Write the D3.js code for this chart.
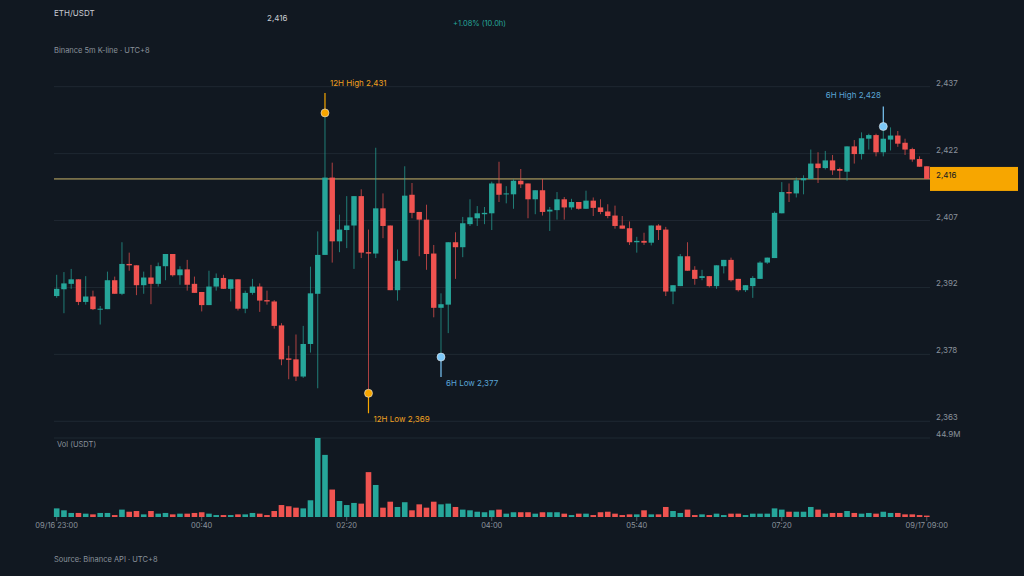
<!DOCTYPE html>
<html><head><meta charset="utf-8">
<script src="https://cdn.jsdelivr.net/npm/d3@7"></script>
<style>body{margin:0;background:#111821}svg{display:block}text{font-family:Inter,"Noto Sans",sans-serif}</style>
</head><body><svg id="c" width="1024" height="576"></svg>
<script>
const opens=[2390.5,2392.0,2393.2,2394.2,2389.2,2390.4,2387.6,2387.6,2394.0,2391.0,2397.6,2397.3,2392.9,2394.6,2393.2,2397.1,2399.8,2395.1,2396.4,2393.2,2391.4,2388.5,2392.6,2394.5,2392.1,2394.2,2387.7,2391.2,2392.6,2389.6,2389.3,2384.0,2376.7,2376.5,2372.7,2379.9,2391.0,2399.6,2416.7,2402.6,2405.1,2406.1,2412.6,2400.2,2399.9,2409.9,2406.1,2391.8,2398.3,2412.9,2409.1,2407.4,2399.9,2387.9,2388.6,2402.4,2401.3,2406.4,2407.7,2408.6,2408.8,2415.4,2413.0,2413.0,2416.0,2415.4,2411.9,2413.9,2409.2,2409.5,2411.9,2410.1,2411.3,2409.8,2411.6,2410.1,2409.2,2408.3,2406.1,2405.5,2402.4,2402.7,2402.3,2406.1,2405.2,2391.5,2392.7,2399.3,2396.3,2394.5,2394.9,2392.7,2397.1,2398.5,2394.3,2391.8,2392.7,2394.3,2397.9,2398.9,2408.8,2413.5,2413.2,2416.1,2416.4,2419.8,2418.8,2420.5,2418.6,2418.0,2423.6,2421.9,2425.3,2426.1,2422.3,2425.1,2426.0,2424.4,2423.0,2420.8,2419.2];
const highs=[2395.2,2395.8,2396.5,2394.2,2394.9,2391.7,2388.3,2395.9,2394.8,2402.4,2400.1,2397.3,2395.9,2397.4,2397.9,2399.8,2399.8,2397.1,2398.5,2394.8,2391.4,2396.1,2395.5,2395.2,2394.2,2394.2,2391.7,2394.3,2393.3,2391.7,2389.6,2384.5,2379.5,2382.0,2383.9,2397.0,2404.8,2431.0,2420.0,2408.5,2412.6,2412.6,2414.1,2405.2,2423.3,2413.2,2406.1,2400.8,2419.2,2415.5,2409.1,2410.7,2401.8,2391.1,2402.4,2404.6,2408.0,2411.9,2410.4,2410.2,2415.8,2420.2,2414.8,2416.3,2418.6,2415.4,2413.9,2416.4,2410.2,2413.5,2412.4,2412.0,2411.3,2413.8,2412.3,2411.9,2410.8,2410.5,2408.2,2407.0,2403.6,2404.5,2406.1,2406.4,2405.8,2392.9,2399.8,2402.4,2397.1,2396.3,2394.9,2397.3,2398.5,2399.0,2394.3,2392.9,2394.9,2398.2,2399.0,2409.2,2415.7,2415.4,2416.7,2417.2,2422.9,2422.3,2422.6,2421.7,2418.9,2423.6,2425.0,2426.7,2426.4,2426.4,2428.0,2427.8,2427.0,2425.3,2423.3,2421.4,2419.2];
const lows=[2390.1,2386.7,2392.1,2388.5,2388.6,2387.4,2384.2,2387.6,2391.0,2390.7,2396.1,2390.7,2391.0,2388.7,2392.6,2394.0,2394.8,2393.0,2391.7,2391.2,2387.1,2388.5,2391.7,2392.1,2389.3,2387.3,2386.7,2390.8,2387.0,2388.6,2383.3,2375.2,2372.1,2371.7,2372.4,2378.0,2370.1,2399.6,2397.9,2400.2,2401.1,2396.5,2398.9,2369.0,2398.9,2403.3,2391.8,2389.5,2398.2,2407.7,2399.3,2396.3,2385.8,2377.0,2382.3,2394.3,2399.1,2406.0,2406.0,2406.4,2405.1,2411.3,2411.0,2409.8,2414.4,2407.7,2408.6,2408.3,2404.9,2407.4,2407.4,2409.6,2409.6,2409.8,2408.2,2408.6,2407.7,2405.4,2405.4,2401.8,2400.1,2401.8,2401.7,2402.9,2390.5,2388.7,2392.7,2396.1,2393.0,2394.0,2392.4,2392.1,2395.5,2393.7,2391.5,2391.4,2390.1,2394.3,2397.6,2398.9,2408.8,2411.3,2412.3,2413.0,2416.4,2415.5,2418.5,2417.3,2416.3,2416.0,2419.8,2420.7,2422.9,2421.4,2421.4,2422.7,2423.5,2421.7,2420.2,2419.1,2416.4];
const closes=[2392.1,2393.3,2394.2,2389.2,2390.4,2387.6,2387.7,2394.0,2391.0,2397.6,2397.3,2392.9,2394.6,2393.2,2397.1,2399.8,2395.1,2396.4,2393.0,2391.2,2388.5,2392.6,2394.5,2392.1,2394.2,2387.7,2391.2,2392.6,2389.5,2389.3,2383.9,2376.5,2376.4,2372.7,2379.9,2391.1,2399.6,2416.7,2402.6,2405.2,2406.1,2412.6,2400.1,2399.9,2409.9,2406.0,2391.8,2398.3,2412.7,2408.9,2407.4,2399.8,2387.9,2388.7,2402.4,2401.3,2406.6,2407.9,2408.8,2408.9,2415.4,2412.9,2413.2,2416.0,2415.2,2411.9,2413.9,2409.1,2409.6,2411.9,2410.1,2411.3,2409.8,2411.6,2410.0,2409.1,2408.2,2406.0,2405.4,2402.4,2402.7,2402.3,2406.1,2405.1,2391.5,2392.9,2399.3,2396.1,2394.3,2394.9,2392.7,2397.3,2398.5,2394.0,2391.8,2392.9,2394.5,2397.9,2399.0,2408.9,2413.5,2413.2,2416.1,2416.6,2419.8,2418.8,2420.5,2418.3,2418.2,2423.6,2421.9,2425.4,2426.1,2422.3,2425.3,2426.0,2424.2,2422.9,2420.7,2419.1,2416.4];
const volumes=[4.9,3.8,2.3,2.3,1.9,1.5,2.3,2.3,1.1,4.2,3.0,3.4,1.5,3.4,1.9,2.3,1.5,1.9,1.9,2.3,2.7,1.9,1.1,1.1,1.1,1.5,1.5,2.3,1.9,1.1,3.4,6.8,6.1,5.3,4.9,9.5,44.9,35.3,15.6,9.1,6.8,8.0,7.6,25.5,18.2,5.3,8.7,5.7,8.4,3.8,7.2,5.3,8.7,7.2,7.6,5.7,4.2,3.8,3.0,2.7,3.8,4.2,1.9,2.7,2.7,2.7,1.9,2.7,2.7,2.7,1.9,1.1,1.9,1.9,1.1,2.7,3.0,1.9,1.1,1.5,1.5,3.8,1.5,1.5,5.7,3.4,2.3,4.2,1.1,1.5,1.1,1.9,1.1,1.9,1.9,1.1,1.9,1.9,1.9,4.9,4.2,3.0,3.0,3.0,5.7,4.2,1.9,2.3,2.3,3.4,2.3,1.9,2.3,1.9,3.0,2.3,2.3,1.5,1.5,1.1,0.8];
const priceTicks=[2436.8,2422.0,2407.2,2392.4,2377.6,2362.8];
const timeTicks=[[0,"09/16 23:00"],[20,"00:40"],[40,"02:20"],[60,"04:00"],[80,"05:40"],[100,"07:20"],[120,"09/17 09:00"]];
const lastPrice=2416.4, volMax=44.9;
const markers=[{i:37,v:2431,label:"12H High 2,431",up:true,c:"#f7a600",tc:"#f0a020"},{i:43,v:2369,label:"12H Low 2,369",up:false,c:"#f7a600",tc:"#f0a020"},{i:53,v:2377,label:"6H Low 2,377",up:false,c:"#7cc8f8",tc:"#5aa5d6"},{i:114,v:2428,label:"6H High 2,428",up:true,c:"#7cc8f8",tc:"#5aa5d6"}];

const svg=d3.select("#c");
const G="#26a69a",R="#ef5350",grid="#1f2832",axisT="#8a929c";
const x=d3.scaleLinear().domain([0,120]).range([56.7,926.8]);
const y=d3.scaleLinear().domain([2362.8,2436.8]).range([421.3,86.7]);
const yv=d3.scaleLinear().domain([0,volMax]).range([517,438]);
svg.append("rect").attr("width",1024).attr("height",576).attr("fill","#111821");
priceTicks.forEach(t=>{
 svg.append("line").attr("x1",54).attr("x2",930).attr("y1",y(t)).attr("y2",y(t)).attr("stroke",grid);
 svg.append("text").attr("x",936).attr("y",y(t)-1).attr("fill",axisT).attr("font-size",8).text(d3.format(",.0f")(t));
});
svg.append("line").attr("x1",54).attr("x2",930).attr("y1",yv(volMax)).attr("y2",yv(volMax)).attr("stroke",grid);
svg.append("text").attr("x",936).attr("y",yv(volMax)-1).attr("fill",axisT).attr("font-size",8).text(volMax+"M");
svg.append("text").attr("x",57).attr("y",447).attr("fill",axisT).attr("font-size",7.5).text("Vol (USDT)");
svg.append("line").attr("x1",54).attr("x2",930).attr("y1",y(lastPrice)).attr("y2",y(lastPrice)).attr("stroke","#c9b56a").attr("stroke-width",1);
const idx=d3.range(opens.length);
const col=i=>closes[i]>=opens[i]?G:R;
svg.selectAll(".v").data(idx).join("rect").attr("x",i=>x(i)-2.8).attr("width",5.6)
 .attr("y",i=>yv(volumes[i])).attr("height",i=>517-yv(volumes[i])).attr("fill",i=>col(i));
svg.selectAll(".w").data(idx).join("line").attr("x1",i=>x(i)).attr("x2",i=>x(i))
 .attr("y1",i=>y(highs[i])).attr("y2",i=>y(lows[i])).attr("stroke",i=>col(i)).attr("stroke-opacity",0.7).attr("stroke-width",1);
svg.selectAll(".b").data(idx).join("rect").attr("x",i=>x(i)-2.7).attr("width",5.4)
 .attr("y",i=>y(Math.max(opens[i],closes[i]))).attr("height",i=>Math.max(1,Math.abs(y(opens[i])-y(closes[i])))).attr("fill",i=>col(i));
markers.forEach(m=>{
 const cx=x(m.i),cy=y(m.v),ey=m.up?cy-20:cy+20;
 svg.append("line").attr("x1",cx).attr("x2",cx).attr("y1",cy).attr("y2",ey).attr("stroke",m.c).attr("stroke-width",1.2);
 svg.append("circle").attr("cx",cx).attr("cy",cy).attr("r",4).attr("fill",m.c).attr("stroke","#e8e8e8").attr("stroke-width",0.6);
 const t=svg.append("text").attr("fill",m.tc).attr("font-size",8).text(m.label);
 if(m.i>100) t.attr("x",cx-30).attr("y",ey-8).attr("text-anchor","middle");
 else t.attr("x",cx+5).attr("y",m.up?ey-7:ey+9);
});
svg.append("rect").attr("x",930).attr("y",y(lastPrice)-12).attr("width",88).attr("height",24).attr("fill","#f7a600");
svg.append("text").attr("x",936).attr("y",y(lastPrice)-1).attr("fill","#111821").attr("font-size",8).text(d3.format(",.0f")(lastPrice));
timeTicks.forEach(([i,l])=>{
 svg.append("line").attr("x1",x(i)).attr("x2",x(i)).attr("y1",517).attr("y2",521).attr("stroke","#555d66");
 svg.append("text").attr("x",x(i)).attr("y",528).attr("text-anchor","middle").attr("fill",axisT).attr("font-size",7.5).text(l);
});
svg.append("text").attr("x",54).attr("y",16).attr("fill","#c8ccd2").attr("font-size",8).text("ETH/USDT");
svg.append("text").attr("x",267).attr("y",21).attr("fill","#c8ccd2").attr("font-size",8).text("2,416");
svg.append("text").attr("x",453).attr("y",26).attr("fill","#26a69a").attr("font-size",7.5).text("+1.08% (10.0h)");
svg.append("text").attr("x",54).attr("y",53).attr("fill",axisT).attr("font-size",7.5).text("Binance 5m K-line · UTC+8");
svg.append("text").attr("x",54).attr("y",562).attr("fill",axisT).attr("font-size",7.5).text("Source: Binance API · UTC+8");
</script></body></html>
